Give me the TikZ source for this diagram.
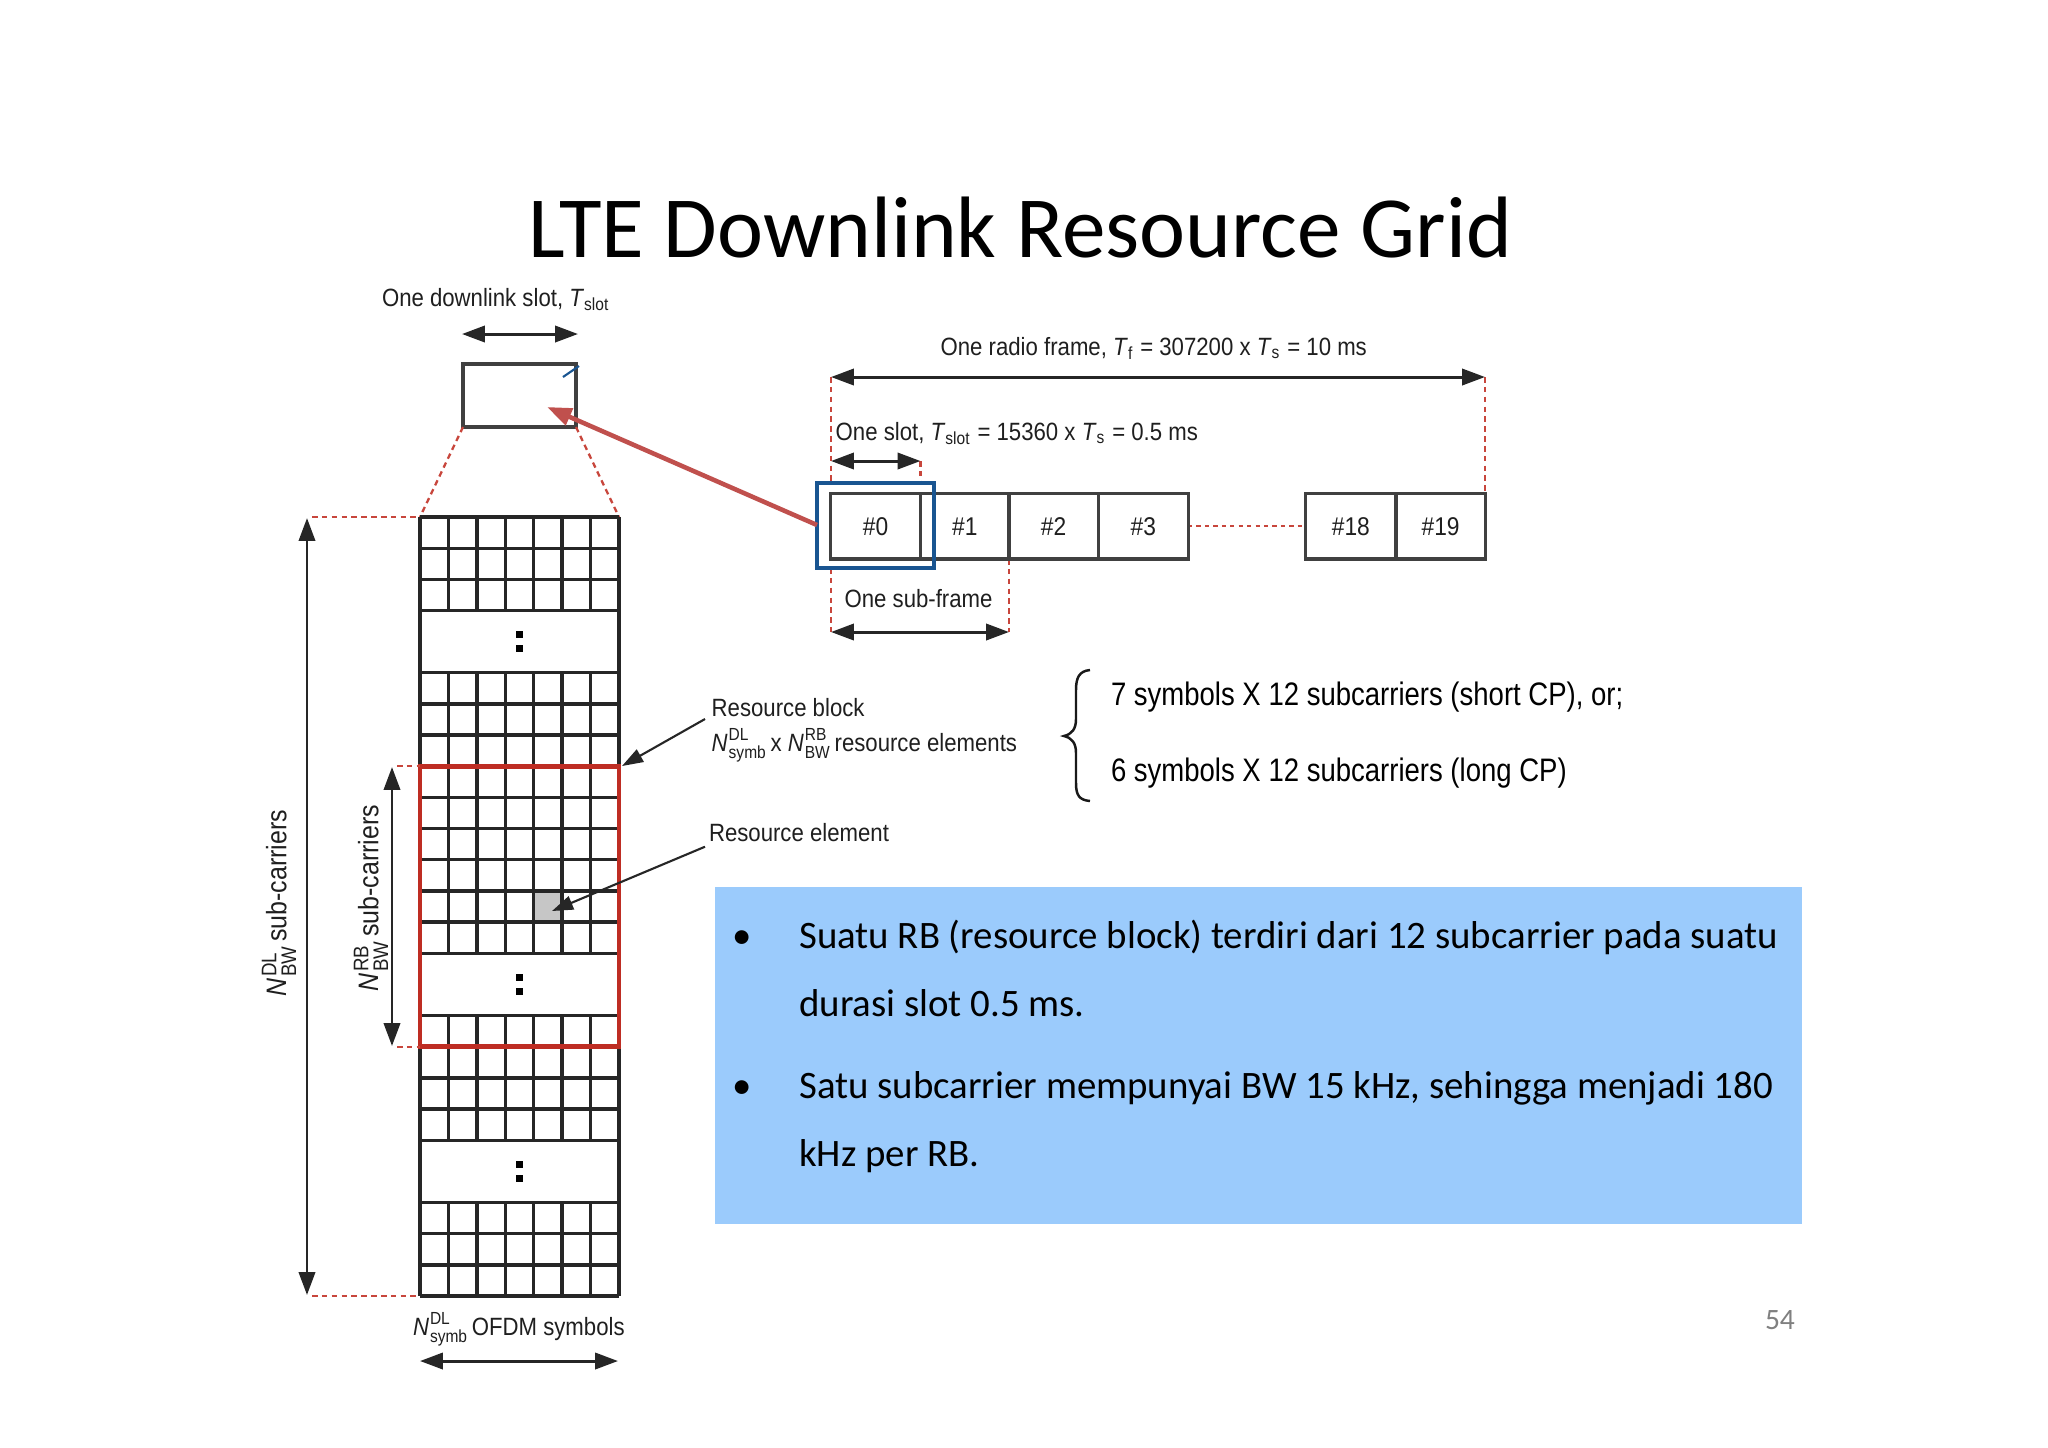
\documentclass[tikz,border=0pt]{standalone}
\usepackage{fontspec}
\usepackage{amsmath}
\setmainfont{Carlito}
\newfontfamily\cond[FakeStretch=0.887]{Liberation Sans}
\newfontfamily\arialn[FakeStretch=0.846]{Liberation Sans}
\usetikzlibrary{arrows.meta}
\definecolor{rbred}{RGB}{190,45,35}
\definecolor{rdash}{RGB}{200,70,60}
\definecolor{selblue}{RGB}{25,85,145}
\definecolor{arrred}{RGB}{192,80,77}
\definecolor{infoblue}{RGB}{155,203,252}
\definecolor{pgnum}{RGB}{128,128,128}
\newcommand\Nss[2]{\textit{N}\kern0.04em$^{\text{#1}}_{\text{#2}}$\kern0.12em}
\begin{document}
\begin{tikzpicture}[x=0.01cm,y=-0.01cm,
  every node/.style={inner sep=0pt,outer sep=0pt},
  lbl/.style={font=\cond\fontsize{7.11}{8.5}\selectfont, text=black!88},
  rlbl/.style={font=\cond\fontsize{8.0}{9.5}\selectfont, text=black!88},
  dimarrow/.style={line width=0.85pt, draw=black!85, arrows={Triangle[length=6.5pt,width=4.6pt]-Triangle[length=6.5pt,width=4.6pt]}},
  leader/.style={line width=0.6pt, draw=black!85, arrows={-Triangle[length=6pt,width=4pt]}},
  reddash/.style={draw=rdash, line width=0.65pt, dash pattern=on 1.6pt off 1.2pt},
  gridline/.style={line width=0.95pt, draw=black!85},
  slotbox/.style={line width=0.9pt, draw=black!75},
  bodytxt/.style={font=\fontsize{11.05}{14}\selectfont, text=black}]
\useasboundingbox (0,0) rectangle (2048,1447);
\fill[white] (0,0) rectangle (2048,1447);

% title
\node[font=\fontsize{24.8}{30}\selectfont, anchor=base] (title) at (1020.5,257.3) {LTE Downlink Resource Grid};

% downlink slot rectangle
\node[lbl, anchor=base west] (dlslotlbl) at (382,306.5) {One downlink slot, \textit{T}$_{\text{slot}}$};
\coordinate (dlsA) at (462,334); \coordinate (dlsB) at (578,334);
\draw[dimarrow] (dlsA) -- (dlsB);
\draw[slotbox] (463,364) rectangle (576,427);
\coordinate (slottip) at (547,407);
\draw[selblue, line width=0.6pt] (563,377) -- (579,366);

% funnel dashed
\draw[reddash] (463,427) -- (420,517);
\draw[reddash] (576,427) -- (619,517);

% grid
\fill[gray!45] ({420+4*28.43},{517+12*31.16}) rectangle ({420+5*28.43},{517+13*31.16});
\foreach \k in {0,1,2,3,5,6,7,8,9,10,11,12,13,14,16,17,18,19,20,22,23,24,25}
  \draw[gridline] (420,{517+\k*31.16}) -- (619,{517+\k*31.16});
\draw[gridline] (420,517) -- (420,1296);
\draw[gridline] (619,517) -- (619,1296);
\foreach \a/\b in {0/3,5/14,16/20,22/25}
  \foreach \c in {1,...,6}
    \draw[gridline] ({420+\c*28.43},{517+\a*31.16}) -- ({420+\c*28.43},{517+\b*31.16});
\foreach \g in {4,15,21} {
  \fill[black] (516,{517+\g*31.16-10.5}) rectangle (523,{517+\g*31.16-3.5});
  \fill[black] (516,{517+\g*31.16+3.5}) rectangle (523,{517+\g*31.16+10.5});
}
\draw[rbred, line width=1.4pt] (420,766.3) rectangle (619,1046.7);

% left dims
\draw[reddash] (312,517) -- (420,517);
\draw[reddash] (312,1296) -- (420,1296);
\draw[reddash] (397,766.3) -- (420,766.3);
\draw[reddash] (397,1046.7) -- (420,1046.7);
\coordinate (bwA) at (307,518); \coordinate (bwB) at (307,1295);
\draw[dimarrow] (bwA) -- (bwB);
\coordinate (rbA) at (392,767); \coordinate (rbB) at (392,1046);
\draw[dimarrow] (rbA) -- (rbB);
\node[rlbl, rotate=90, anchor=center] (bwlbl) at (279,903) {\Nss{DL}{BW}sub-carriers};
\node[rlbl, rotate=90, anchor=center] (rbbwlbl) at (371,898) {\Nss{RB}{BW}sub-carriers};

% bottom label
\node[lbl, anchor=base west] (symlbl) at (413,1335) {\Nss{DL}{symb}OFDM symbols};
\coordinate (symA) at (420,1361); \coordinate (symB) at (618,1361);
\draw[dimarrow] (symA) -- (symB);

% frame structure
\node[lbl, anchor=base west] (framelbl) at (940.6,355) {One radio frame, \textit{T}$_{\text{f}}$ = 307200 x \textit{T}$_{\text{s}}$ = 10 ms};
\node[lbl, anchor=base west] (slotlbl) at (835.7,440) {One slot, \textit{T}$_{\text{slot}}$ = 15360 x \textit{T}$_{\text{s}}$ = 0.5 ms};
\node[lbl, anchor=base west] (sflbl) at (844.6,607.3) {One sub-frame};
\draw[reddash] (831,377) -- (831,483);
\draw[reddash] (831,568) -- (831,632);
\draw[reddash] (1485,377) -- (1485,493);
\draw[reddash] (920.5,461) -- (920.5,483);
\draw[reddash] (1009,559) -- (1009,632);
\draw[draw=rdash, line width=0.65pt, dash pattern=on 1.2pt off 1.2pt] (1188,526) -- (1306,526);
\coordinate (frA) at (831,377); \coordinate (frB) at (1485,377);
\draw[dimarrow] (frA) -- (frB);
\coordinate (slA) at (831,461); \coordinate (slB) at (920.5,461);
\draw[dimarrow] (slA) -- (slB);
\coordinate (sfA) at (831,632); \coordinate (sfB) at (1009,632);
\draw[dimarrow] (sfA) -- (sfB);
\foreach \xa/\xb/\t/\n in {830.5/920.5/0/0, 920.5/1009/1/1, 1009/1098.2/2/2, 1098.2/1188.4/3/3, 1305.8/1396/18/18, 1396/1485.3/19/19} {
  \draw[slotbox] (\xa,493.3) rectangle (\xb,559);
  \node[lbl, font=\cond\fontsize{7.3}{8.5}\selectfont, anchor=base] (s\n) at ({(\xa+\xb)/2},535) {\#\t};
}
\draw[selblue, line width=1.4pt] (817,483) rectangle (934,568);
\coordinate (b0w) at (817,525);
\draw[arrred, line width=1.3pt, arrows={-Triangle[length=7pt,width=5pt]}] (b0w) -- (slottip);

% resource block / element labels
\node[lbl, anchor=base west] (rblbl) at (711.7,716.7) {Resource block};
\node[lbl, anchor=base west] (rblbl2) at (711.7,751) {\Nss{DL}{symb}x \Nss{RB}{BW}resource elements};
\node[lbl, anchor=base west] (relbl) at (709,841.7) {Resource element};
\coordinate (rbtxt) at (705,719); \coordinate (rbcorner) at (622,766);
\draw[leader] (rbtxt) -- (rbcorner);
\coordinate (retxt) at (705,846.7); \coordinate (recell) at (552,911);
\draw[leader] (retxt) -- (recell);

% brace
\draw[line width=0.7pt, black!90] (1090,670) .. controls (1079,671) and (1076,678) .. (1076,690) -- (1076,719) .. controls (1076,729) and (1072,734) .. (1064,736) .. controls (1072,738) and (1076,743) .. (1076,753) -- (1076,783) .. controls (1076,795) and (1079,800) .. (1090,801);
\node[font=\arialn\fontsize{9.25}{11}\selectfont, anchor=base west] (cp1) at (1111,705) {7 symbols X 12 subcarriers (short CP), or;};
\node[font=\arialn\fontsize{9.25}{11}\selectfont, anchor=base west] (cp2) at (1111,781.7) {6 symbols X 12 subcarriers (long CP)};

% info box
\fill[infoblue] (715,887) rectangle (1802,1224);
\node[bodytxt, anchor=base] (b1) at (742,948.3) {•};
\node[bodytxt, anchor=base west] (t1) at (799.3,948.3) {Suatu RB (resource block) terdiri dari 12 subcarrier pada suatu};
\node[bodytxt, anchor=base west] (t2) at (799.3,1016.7) {durasi slot 0.5 ms.};
\node[bodytxt, anchor=base] (b2) at (742,1098.3) {•};
\node[bodytxt, anchor=base west] (t3) at (799.3,1098.3) {Satu subcarrier mempunyai BW 15 kHz, sehingga menjadi 180};
\node[bodytxt, anchor=base west] (t4) at (799.3,1166.7) {kHz per RB.};

% page number
\node[font=\fontsize{8.4}{10}\selectfont, text=pgnum, anchor=base west] (pg) at (1765,1329) {54};
\end{tikzpicture}
\end{document}
